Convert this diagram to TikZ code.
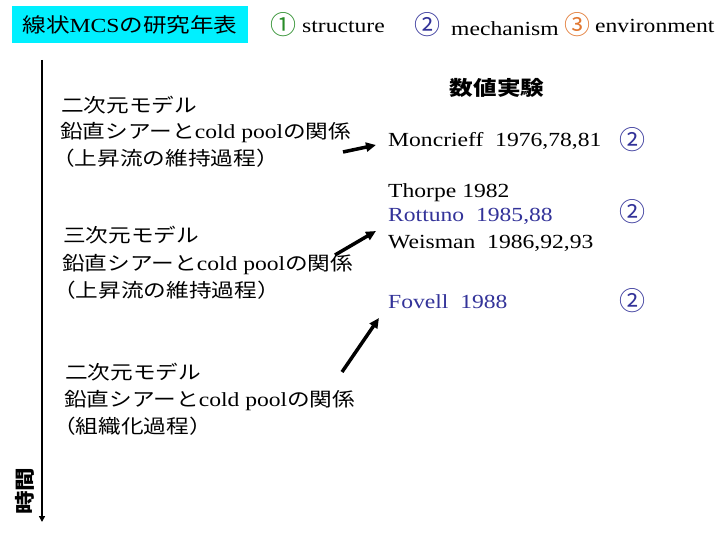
\documentclass[tikz,border=0pt]{standalone}
\usepackage{fontspec}
\usetikzlibrary{arrows.meta}
\setmainfont{Liberation Serif}[FakeStretch=1.18]
\newfontfamily\jpt{Noto Sans CJK JP}[FakeStretch=1.18]
\newfontfamily\jpf{Noto Sans CJK JP}[FakeStretch=1.18,Scale=0.96]
\newfontfamily\numf{Noto Sans CJK JP}
\definecolor{boxcyan}{RGB}{0,240,255}
\definecolor{numgreen}{RGB}{40,140,40}
\definecolor{numblue}{RGB}{51,51,153}
\definecolor{numorange}{RGB}{225,120,50}
\definecolor{txtblue}{RGB}{51,51,153}
\tikzset{
  txt/.style={anchor=base west,inner sep=0pt,font=\fontsize{20}{24}\selectfont},
  num/.style={anchor=center,inner sep=0pt,font=\numf\fontsize{26}{30}\selectfont},
  bigarrow/.style={line width=3.5pt,-{Triangle[length=10pt,width=9pt]}},
}
\begin{document}
\begin{tikzpicture}[x=1pt,y=-1pt]
\useasboundingbox (0,0) rectangle (720,540);
% title
\node[fill=boxcyan,minimum width=236pt,minimum height=37pt,inner sep=0pt,
      font=\fontsize{20}{24}\selectfont] (title) at (130,24.5)
  {{\jpt 線状}MCS{\jpt の研究年表}};
% legend
\node[num,text=numgreen] (n1) at (283,25) {①};
\node[txt] (l1) at (302,33) {structure};
\node[num,text=numblue] (n2) at (427,25) {②};
\node[txt] (l2) at (451,36) {mechanism};
\node[num,text=numorange] (n3) at (577,25) {③};
\node[txt] (l3) at (595,33) {environment};
% header
\node[anchor=base,inner sep=0pt,font=\jpt\bfseries\fontsize{20}{24}\selectfont] (hd) at (497,95.5) {数値実験};
% time axis
\coordinate (t0) at (42,60);
\coordinate (t1) at (42,522);
\draw[line width=2pt,-{Triangle[length=6pt,width=6pt]}] (t0) -- (t1);
\node[rotate=90,inner sep=0pt,font=\jpt\bfseries\fontsize{20}{24}\selectfont] (time) at (25,491) {時間};
% block 1
\node[txt] (a1) at (61,113) {\jpf 二次元モデル};
\node[txt] (a2) at (60,139) {{\jpf 鉛直シアーと}cold pool{\jpf の関係}};
\node[txt] (a3) at (52,166) {\jpf （上昇流の維持過程）};
% block 2
\node[txt] (b1) at (63,243) {\jpf 三次元モデル};
\node[txt] (b2) at (62,270) {{\jpf 鉛直シアーと}cold pool{\jpf の関係}};
\node[txt] (b3) at (53,297) {\jpf （上昇流の維持過程）};
% block 3
\node[txt] (c1) at (65,379) {\jpf 二次元モデル};
\node[txt] (c2) at (64,406) {{\jpf 鉛直シアーと}cold pool{\jpf の関係}};
\node[txt] (c3) at (53,433) {\jpf （組織化過程）};
% right column
\node[txt] (r1) at (388,147) {Moncrieff\ \ 1976,78,81};
\node[num,text=numblue] (r1n) at (632,140) {②};
\node[txt] (r2) at (388,198) {Thorpe 1982};
\node[txt,text=txtblue] (r3) at (388,222) {Rottuno\ \ 1985,88};
\node[txt] (r4) at (388,248) {Weisman\ \ 1986,92,93};
\node[num,text=numblue] (r2n) at (632,212) {②};
\node[txt,text=txtblue] (r5) at (388,308) {Fovell\ \ 1988};
\node[num,text=numblue] (r5n) at (632,301) {②};
% arrows
\coordinate (s1) at (343,152); \coordinate (e1) at (376,145);
\coordinate (s2) at (335,255); \coordinate (e2) at (376,231);
\coordinate (s3) at (342,372); \coordinate (e3) at (379,318);
\draw[bigarrow] (s1) -- (e1);
\draw[bigarrow] (s2) -- (e2);
\draw[bigarrow] (s3) -- (e3);
\end{tikzpicture}
\end{document}
